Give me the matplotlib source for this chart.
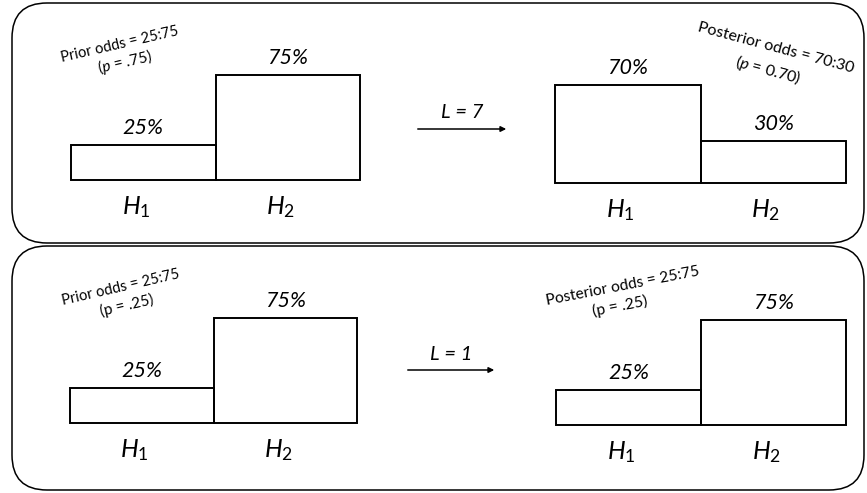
import matplotlib.pyplot as plt
from matplotlib.patches import FancyBboxPatch

plt.rcParams['font.family'] = ['Lato', 'DejaVu Sans']
plt.rcParams['mathtext.fontset'] = 'custom'
plt.rcParams['mathtext.rm'] = 'Lato'
plt.rcParams['mathtext.it'] = 'Lato:italic'

# data
hyp_labels = ['$H_1$', '$H_2$']
prior_top = [25, 75]
post_top = [70, 30]
prior_bottom = [25, 75]
post_bottom = [25, 75]
likelihood = [7, 1]
prior_text = ['Prior odds = 25:75', 'Prior odds = 25:75']
prior_p = ['($p$ = .75)', '(p = .25)']
post_text = ['Posterior odds = 70:30', 'Posterior odds = 25:75']
post_p = ['($p$ = 0.70)', '(p = .25)']

W, H = 867, 493
fig = plt.figure(figsize=(W / 100, H / 100), dpi=100)
bg = fig.add_axes([0, 0, 1, 1])
bg.set_xlim(0, W)
bg.set_ylim(H, 0)
bg.axis('off')

# rounded panels
for y0, h in [(3, 240), (246, 244)]:
    bg.add_patch(FancyBboxPatch((12, y0), 852, h, boxstyle='round,pad=0,rounding_size=35',
                                fill=False, edgecolor='black', linewidth=1.1))


def bar_group(x0, x1, base, vals):
    ax = fig.add_axes([x0 / W, (H - base) / H, (x1 - x0) / W, 140 / H])
    bars = ax.bar([0, 1], vals, width=1, align='edge', fill=False,
                  edgecolor='black', linewidth=1.4)
    for b in bars:
        b.set_clip_on(False)
    for i, v in enumerate(vals):
        ax.text(i + 0.5, v + 12, f'{v}%', ha='center', va='center',
                style='italic', fontsize=15.5)
        ax.text(i + 0.45, -19, hyp_labels[i], ha='center', va='center', fontsize=18)
    ax.set_xlim(0, 2)
    ax.set_ylim(0, 100)
    ax.axis('off')


bar_group(71, 360, 180, prior_top)
bar_group(555, 846, 183, post_top)
bar_group(70, 357, 423, prior_bottom)
bar_group(556, 846, 425, post_bottom)

# arrows with likelihood ratio
for (xa, xb, ya), L in zip([(415, 509, 129), (405, 497, 370)], likelihood):
    bg.annotate('', xy=(xb, ya), xytext=(xa, ya),
                arrowprops=dict(arrowstyle='-|>', lw=1.1, color='black', mutation_scale=8))
    bg.text((xa + xb) / 2, ya - 16, f'L = {L}', ha='center', va='center',
            style='italic', fontsize=14.5)

# odds annotations
bg.text(120, 45, prior_text[0], rotation=13, ha='center', va='center', fontsize=10.5)
bg.text(125, 62, prior_p[0], rotation=13, ha='center', va='center', fontsize=11)
bg.text(776, 48, post_text[0], rotation=-15, ha='center', va='center', fontsize=11.5)
bg.text(768, 70, post_p[0], rotation=-15, ha='center', va='center', fontsize=11.5)
bg.text(121, 288, prior_text[1], rotation=13, ha='center', va='center', fontsize=10.5)
bg.text(127, 306, prior_p[1], rotation=13, ha='center', va='center', fontsize=11)
bg.text(623, 286, post_text[1], rotation=11, ha='center', va='center', fontsize=11.2)
bg.text(620, 306, post_p[1], rotation=11, ha='center', va='center', fontsize=11.2)

fig.savefig('out.png', dpi=100)
